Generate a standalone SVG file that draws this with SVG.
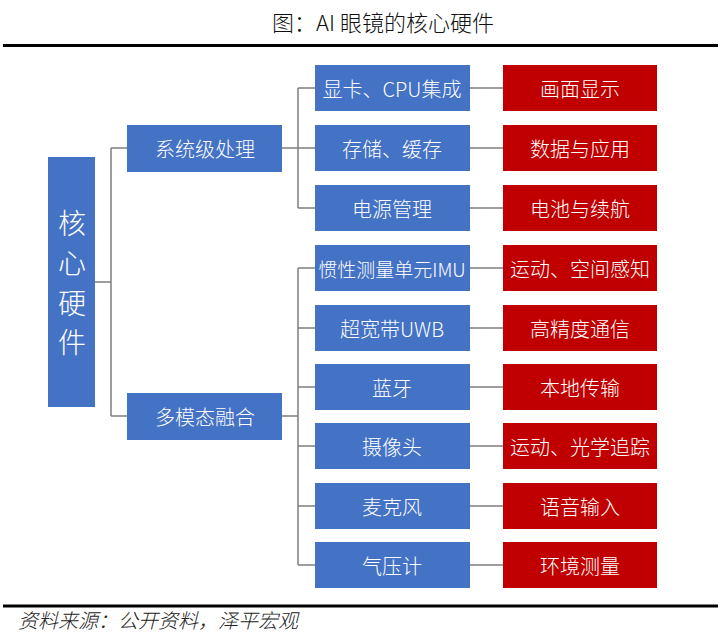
<svg xmlns="http://www.w3.org/2000/svg" width="721" height="635" viewBox="0 0 721 635">
<style>
.blue{fill:#4472C4}
.red{fill:#C00000}
.t{fill:#fff;font-family:"Noto Sans CJK SC","Noto Sans",sans-serif;font-size:20px;text-anchor:middle;dominant-baseline:central;font-weight:300}
.rt{font-size:28px}
.conn{fill:none;stroke:#7f7f7f;stroke-width:1.5}
.rule{stroke:#000;stroke-width:3}
</style>
<rect width="721" height="635" fill="#fff"/>
<text x="383" y="21" style="font-family:'Noto Sans CJK SC',sans-serif;font-size:22px;text-anchor:middle;dominant-baseline:central;fill:#111;font-weight:300">图：AI 眼镜的核心硬件</text>
<line class="rule" x1="3" y1="45.5" x2="718" y2="45.5"/>
<line class="rule" x1="3" y1="606" x2="718" y2="606"/>
<text x="18" y="619" style="font-family:'Noto Sans CJK SC',sans-serif;font-size:20px;font-style:italic;dominant-baseline:central;fill:#222;font-weight:300">资料来源：公开资料，泽平宏观</text>

<g id="connectors">
<path class="conn" d="M95 282H111M111 148V416M111 148H127M111 416H127"/>
<path class="conn" d="M282 148H298M298 88V208M298 88H315M298 148H315M298 208H315"/>
<path class="conn" d="M282 416H298M298 268V565M298 268H315M298 328H315M298 387H315M298 446H315M298 506H315M298 565H315"/>
<path class="conn" d="M470 88H503M470 148H503M470 208H503M470 268H503M470 328H503M470 387H503M470 446H503M470 506H503M470 565H503"/>
</g>

<g id="root">
<rect class="blue" x="48" y="157" width="47" height="250"/>
<text class="t rt" x="72" y="222">核</text>
<text class="t rt" x="72" y="262">心</text>
<text class="t rt" x="72" y="302">硬</text>
<text class="t rt" x="72" y="341">件</text>
</g>

<g id="l1-sys"><rect class="blue" x="127" y="125" width="155" height="47"/><text class="t" x="205" y="148">系统级处理</text></g>
<g id="l1-multi"><rect class="blue" x="127" y="393" width="155" height="47"/><text class="t" x="205" y="416">多模态融合</text></g>

<g id="b1"><rect class="blue" x="315" y="65" width="155" height="46"/><text class="t" x="392" y="88">显卡、CPU集成</text></g>
<g id="b2"><rect class="blue" x="315" y="125" width="155" height="46"/><text class="t" x="392" y="148">存储、缓存</text></g>
<g id="b3"><rect class="blue" x="315" y="185" width="155" height="46"/><text class="t" x="392" y="208">电源管理</text></g>
<g id="b4"><rect class="blue" x="315" y="245" width="155" height="46"/><text class="t" x="392" y="268" style="font-size:19px">惯性测量单元IMU</text></g>
<g id="b5"><rect class="blue" x="315" y="305" width="155" height="46"/><text class="t" x="392" y="328">超宽带UWB</text></g>
<g id="b6"><rect class="blue" x="315" y="364" width="155" height="46"/><text class="t" x="392" y="387">蓝牙</text></g>
<g id="b7"><rect class="blue" x="315" y="423" width="155" height="46"/><text class="t" x="392" y="446">摄像头</text></g>
<g id="b8"><rect class="blue" x="315" y="483" width="155" height="46"/><text class="t" x="392" y="506">麦克风</text></g>
<g id="b9"><rect class="blue" x="315" y="542" width="155" height="46"/><text class="t" x="392" y="565">气压计</text></g>

<g id="r1"><rect class="red" x="503" y="65" width="154" height="46"/><text class="t" x="580" y="88">画面显示</text></g>
<g id="r2"><rect class="red" x="503" y="125" width="154" height="46"/><text class="t" x="580" y="148">数据与应用</text></g>
<g id="r3"><rect class="red" x="503" y="185" width="154" height="46"/><text class="t" x="580" y="208">电池与续航</text></g>
<g id="r4"><rect class="red" x="503" y="245" width="154" height="46"/><text class="t" x="580" y="268">运动、空间感知</text></g>
<g id="r5"><rect class="red" x="503" y="305" width="154" height="46"/><text class="t" x="580" y="328">高精度通信</text></g>
<g id="r6"><rect class="red" x="503" y="364" width="154" height="46"/><text class="t" x="580" y="387">本地传输</text></g>
<g id="r7"><rect class="red" x="503" y="423" width="154" height="46"/><text class="t" x="580" y="446">运动、光学追踪</text></g>
<g id="r8"><rect class="red" x="503" y="483" width="154" height="46"/><text class="t" x="580" y="506">语音输入</text></g>
<g id="r9"><rect class="red" x="503" y="542" width="154" height="46"/><text class="t" x="580" y="565">环境测量</text></g>
</svg>
